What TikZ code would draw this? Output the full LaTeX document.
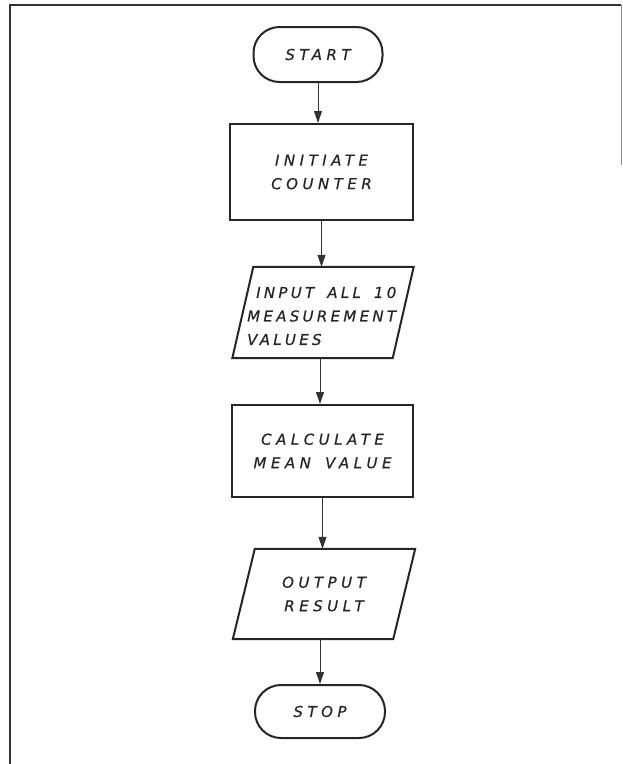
\documentclass[tikz,border=0pt]{standalone}
\usepackage{fontspec}
\usetikzlibrary{arrows.meta,calc}
\newfontfamily\lettering[LetterSpace=30,FakeBold=0.6]{DejaVu Sans}
\newfontfamily\letteringtight[LetterSpace=22,FakeBold=0.6]{DejaVu Sans}
\newcommand\wsp{\hspace{5pt}}
\tikzset{
  txt/.style={font=\lettering\itshape\fontsize{15}{23.5}\selectfont, text=black!85, align=center, inner sep=0pt},
  shapeline/.style={line width=2pt, draw=black!85},
  termbox/.style={txt, shapeline, rounded corners=26pt},
  procbox/.style={txt, shapeline},
  iobox/.style={txt},
  arr/.style={line width=1pt, draw=black!80, -{Triangle[width=8pt,length=12pt]}},
  frame/.style={line width=1.6pt, draw=black!80}
}
\begin{document}
\begin{tikzpicture}[x=1pt,y=-1pt]
\useasboundingbox (0,0) rectangle (623,764);
% frame
\draw[frame] (10,764) -- (10,5) -- (621,5);
\draw[line width=1pt, draw=black!45] (621,5) -- (621,165);

\node[termbox, minimum width=129pt, minimum height=55pt] (start) at (318,54.5) {START};
\node[procbox, minimum width=183pt, minimum height=96pt] (init) at (321.5,172) {INITIATE\\COUNTER};
\node[iobox, minimum width=160pt, minimum height=91pt] (input) at (323,312.5) {};
\node[txt, font=\letteringtight\itshape\fontsize{15}{23.5}\selectfont, align=left, anchor=west] (inputtext) at (247,316) {\hspace*{9pt}INPUT\wsp{} ALL\wsp{} 10\\MEASUREMENT\\VALUES};
\draw[shapeline] ($(input.north west)+(10.5,0)$) -- ($(input.north east)+(10.5,0)$)
  -- ($(input.south east)-(10.5,0)$) -- ($(input.south west)-(10.5,0)$) -- cycle;
\node[procbox, minimum width=181pt, minimum height=92pt] (calc) at (322.5,451) {CALCULATE\\MEAN\wsp{} VALUE};
\node[iobox, minimum width=160pt, minimum height=90pt] (output) at (324,594) {OUTPUT\\RESULT};
\draw[shapeline] ($(output.north west)+(11,0)$) -- ($(output.north east)+(11,0)$)
  -- ($(output.south east)-(11,0)$) -- ($(output.south west)-(11,0)$) -- cycle;
\node[termbox, minimum width=130pt, minimum height=53pt] (stop) at (320,711.5) {STOP};

\draw[arr] (start.south) -- (start.south |- init.north);
\draw[arr] (init.south) -- (init.south |- input.north);
\draw[arr] (input.south) ++(-3,0) coordinate (a1) -- (a1 |- calc.north);
\draw[arr] (calc.south) -- (calc.south |- output.north);
\draw[arr] (output.south) ++(-4,0) coordinate (a2) -- (a2 |- stop.north);
\end{tikzpicture}
\end{document}
